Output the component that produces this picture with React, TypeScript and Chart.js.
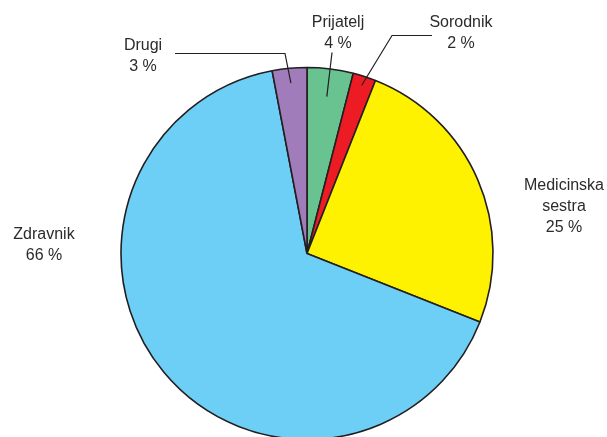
import React, { useEffect, useRef } from "react";
import { Chart, registerables } from "chart.js";

Chart.register(...registerables);

// Share of respondents by source (percent), clockwise from 12 o'clock
const categories = ["Prijatelj", "Sorodnik", "Medicinska sestra", "Zdravnik", "Drugi"];
const shares = [4, 2, 25, 66, 3];
const sliceColors = ["#68c390", "#ed1c24", "#fff200", "#6dcff6", "#a07cbb"];

// Text lines shown for each category's label
const labelLines = [["Prijatelj"], ["Sorodnik"], ["Medicinska", "sestra"], ["Zdravnik"], ["Drugi"]];

// Label placement: text centre relative to pie centre, plus optional leader line
type LabelLayout = {
  dx: number;
  dy: number;
  leader?: { depth: number; path: [number, number][] };
};
const labelLayout: LabelLayout[] = [
  { dx: 31, dy: -220, leader: { depth: 0.85, path: [[25, -201]] } },
  { dx: 154, dy: -220, leader: { depth: 0.95, path: [[85, -218], [125, -218]] } },
  { dx: 257, dy: -47 },
  { dx: -263, dy: -8 },
  { dx: -164, dy: -197, leader: { depth: 0.92, path: [[-22, -200], [-132, -200]] } },
];

const TEXT_COLOR = "#2b2b2b";
const LINE_COLOR = "#231f20";
const FONT = "16px 'Liberation Sans', Arial, sans-serif";
const LINE_H = 21;

const labelPlugin = {
  id: "outsideLabels",
  afterDatasetsDraw(chart: any) {
    const ctx = chart.ctx as CanvasRenderingContext2D;
    const meta = chart.getDatasetMeta(0);
    const values = chart.data.datasets[0].data as number[];
    ctx.save();
    meta.data.forEach((arc: any, i: number) => {
      const { x, y, startAngle, endAngle, outerRadius } = arc.getProps(
        ["x", "y", "startAngle", "endAngle", "outerRadius"],
        true
      );
      const lay = labelLayout[i];
      const lines = [...labelLines[i], `${values[i]} %`];
      if (lay.leader) {
        const mid = (startAngle + endAngle) / 2;
        const r = outerRadius * lay.leader.depth;
        ctx.beginPath();
        ctx.moveTo(x + Math.cos(mid) * r, y + Math.sin(mid) * r);
        lay.leader.path.forEach(([px, py]) => ctx.lineTo(x + px, y + py));
        ctx.strokeStyle = LINE_COLOR;
        ctx.lineWidth = 1.2;
        ctx.stroke();
      }
      ctx.fillStyle = TEXT_COLOR;
      ctx.font = FONT;
      ctx.textAlign = "center";
      ctx.textBaseline = "middle";
      const top = y + lay.dy - ((lines.length - 1) * LINE_H) / 2;
      lines.forEach((t, k) => ctx.fillText(t, x + lay.dx, top + k * LINE_H));
    });
    ctx.restore();
  },
};

export default function App() {
  const canvasRef = useRef<HTMLCanvasElement | null>(null);

  useEffect(() => {
    if (!canvasRef.current) return;
    const chart = new Chart(canvasRef.current, {
      type: "pie",
      data: {
        labels: categories,
        datasets: [
          {
            data: shares,
            backgroundColor: sliceColors,
            borderColor: LINE_COLOR,
            borderWidth: 1.6,
            clip: false,
          } as any,
        ],
      },
      options: {
        animation: false,
        responsive: false,
        radius: 186,
        layout: { padding: { left: 7, right: 0, top: 70, bottom: 0 } },
        plugins: {
          legend: { display: false },
          tooltip: { enabled: false },
        },
      } as any,
      plugins: [labelPlugin],
    });
    return () => chart.destroy();
  }, []);

  return (
    <div style={{ position: "fixed", left: 0, top: 0, width: 607, height: 437, background: "#fff" }}>
      <canvas ref={canvasRef} width={607} height={437} />
    </div>
  );
}
